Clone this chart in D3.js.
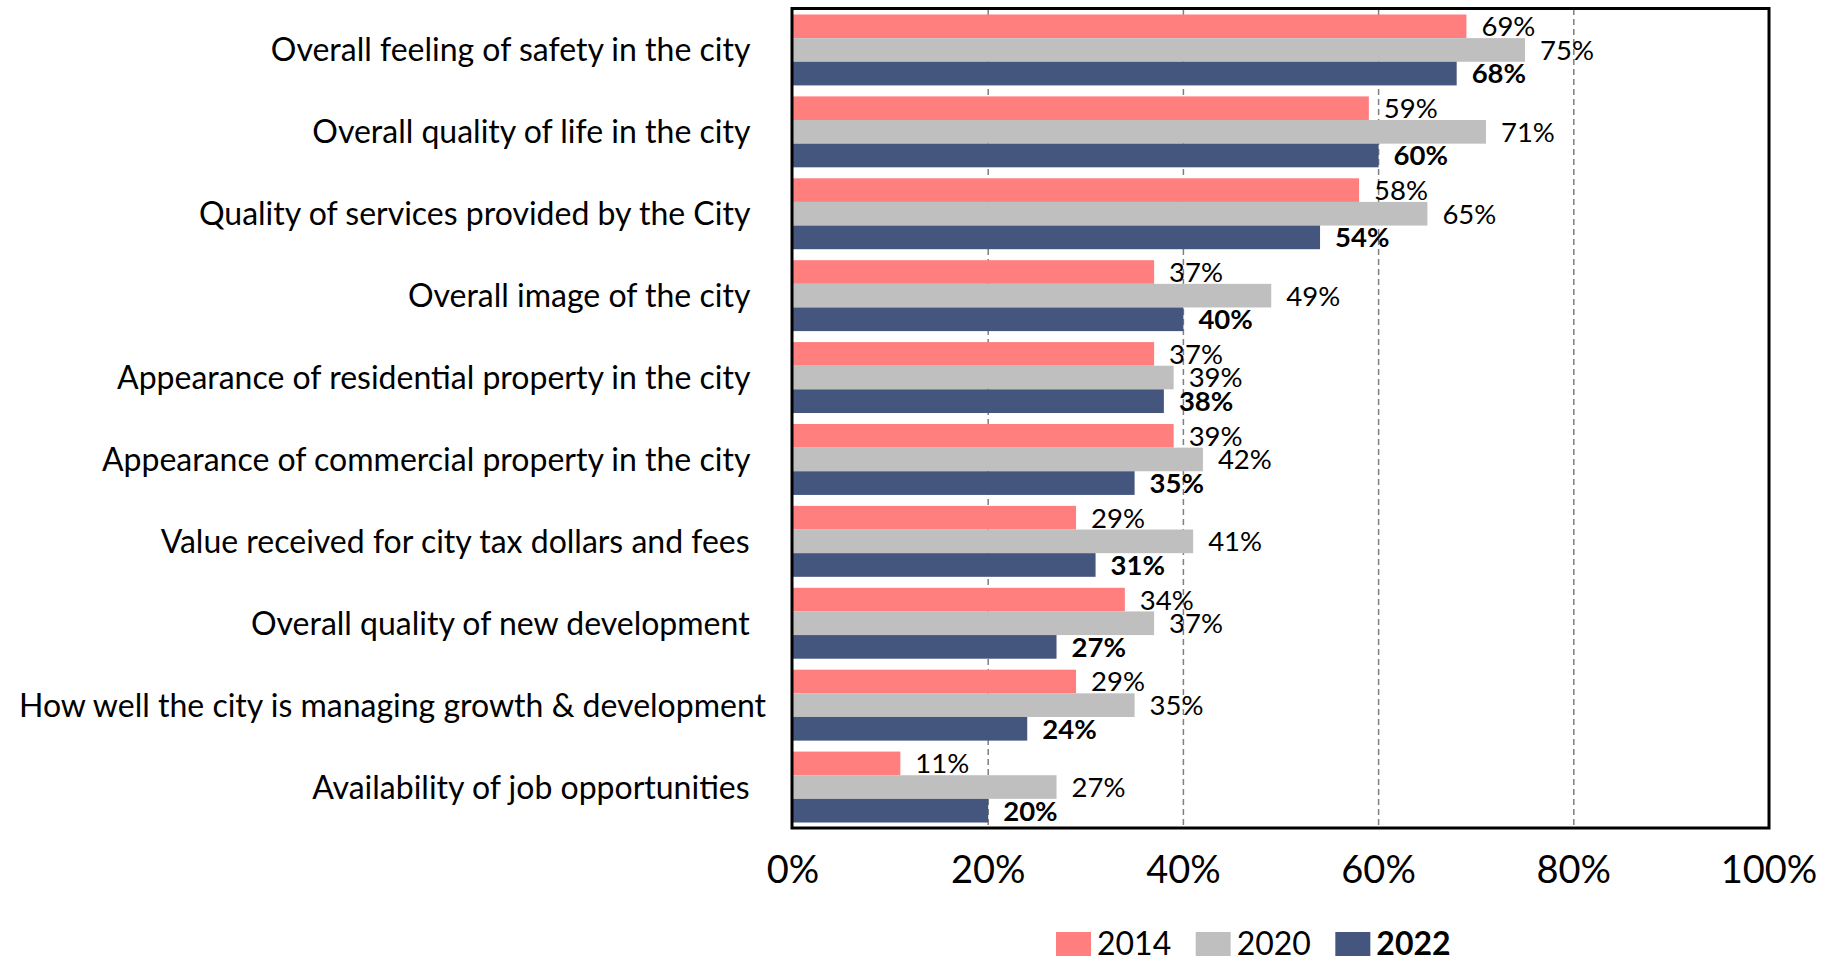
<!DOCTYPE html>
<html>
<head>
<meta charset="utf-8">
<script src="https://cdn.jsdelivr.net/npm/d3@7"></script>
<style>
  body { margin: 0; background: #fff; }
  text { font-family: Lato, "Open Sans", sans-serif; fill: #000; white-space: pre; }
</style>
</head>
<body>
<div id="chart"></div>
<script>
// survey categories (top to bottom); trailing spaces as in the source labels
var categories = [
  "Overall feeling of safety in the city  ",
  "Overall quality of life in the city  ",
  "Quality of services provided by the City  ",
  "Overall image of the city  ",
  "Appearance of residential property in the city  ",
  "Appearance of commercial property in the city  ",
  "Value received for city tax dollars and fees  ",
  "Overall quality of new development  ",
  "How well the city is managing growth & development",
  "Availability of job opportunities  "
];
var years = ["2014", "2020", "2022"];
var values_2014 = [69, 59, 58, 37, 37, 39, 29, 34, 29, 11];
var values_2020 = [75, 71, 65, 49, 39, 42, 41, 37, 35, 27];
var values_2022 = [68, 60, 54, 40, 38, 35, 31, 27, 24, 20];
var xTicks = [0, 20, 40, 60, 80, 100];

var colors = {"2014": "#ff7f7f", "2020": "#bfbfbf", "2022": "#44557e"};

var W = 1835, H = 962;
var plot = {left: 793, right: 1769, top: 9, bottom: 828};

var series = {"2014": values_2014, "2020": values_2020, "2022": values_2022};
var rows = categories.map(function (c, i) {
  return {cat: c, vals: years.map(function (y) { return {year: y, v: series[y][i]}; })};
});

var svg = d3.select("#chart").append("svg")
    .attr("width", W)
    .attr("height", H);

var x = d3.scaleLinear().domain([0, 100]).range([plot.left, plot.right]);
var y0 = d3.scaleBand()
    .domain(categories)
    .range([plot.top, plot.bottom])
    .paddingInner(0.134)
    .paddingOuter(0.067);
var y1 = d3.scaleBand().domain(years).range([0, y0.bandwidth()]);

// dashed grid lines
svg.append("g")
    .selectAll("line")
    .data(xTicks.filter(function (t) { return t > 0 && t < 100; }))
    .enter().append("line")
    .attr("x1", function (d) { return x(d); })
    .attr("x2", function (d) { return x(d); })
    .attr("y1", plot.top)
    .attr("y2", plot.bottom)
    .attr("stroke", "#7f7f7f")
    .attr("stroke-width", 1.5)
    .attr("stroke-dasharray", "6,4");

// bars
var groups = svg.append("g").selectAll("g")
    .data(rows)
    .enter().append("g")
    .attr("transform", function (d) { return "translate(0," + y0(d.cat) + ")"; });

groups.selectAll("rect")
    .data(function (d) { return d.vals; })
    .enter().append("rect")
    .attr("x", x(0))
    .attr("y", function (d) { return y1(d.year); })
    .attr("width", function (d) { return x(d.v) - x(0); })
    .attr("height", y1.bandwidth())
    .attr("fill", function (d) { return colors[d.year]; });

// value labels
groups.selectAll("text")
    .data(function (d) { return d.vals; })
    .enter().append("text")
    .attr("x", function (d) { return x(d.v) + 15; })
    .attr("y", function (d) { return y1(d.year) + y1.bandwidth() / 2; })
    .attr("dy", "0.36em")
    .style("font-size", "27.5px")
    .style("font-weight", function (d) { return d.year === "2022" ? "bold" : "normal"; })
    .text(function (d) { return d.v + "%"; });

// plot frame
svg.append("rect")
    .attr("x", plot.left - 1)
    .attr("y", plot.top - 0.5)
    .attr("width", plot.right - plot.left + 1)
    .attr("height", plot.bottom - plot.top + 0.5)
    .attr("fill", "none")
    .attr("stroke", "#000")
    .attr("stroke-width", 3);

// category labels
svg.append("g").selectAll("text")
    .data(categories)
    .enter().append("text")
    .attr("x", x(0) - 27)
    .attr("y", function (d) { return y0(d) + y0.bandwidth() / 2; })
    .attr("dy", "0.36em")
    .attr("text-anchor", "end")
    .style("font-size", "32px")
    .text(function (d) { return d; });

// x axis tick labels
svg.append("g").selectAll("text")
    .data(xTicks)
    .enter().append("text")
    .attr("x", function (d) { return x(d); })
    .attr("y", 883)
    .attr("text-anchor", "middle")
    .style("font-size", "38px")
    .text(function (d) { return d + "%"; });

// legend
var lx = d3.scaleBand().domain(years).range([1056, 1475]);
var legend = svg.append("g").selectAll("g")
    .data(years)
    .enter().append("g")
    .attr("transform", function (d) { return "translate(" + lx(d) + ",932)"; });
legend.append("rect")
    .attr("width", 35)
    .attr("height", 24)
    .attr("fill", function (d) { return colors[d]; });
legend.append("text")
    .attr("x", 41)
    .attr("y", 23)
    .style("font-size", "32px")
    .style("font-weight", function (d) { return d === "2022" ? "bold" : "normal"; })
    .text(function (d) { return d; });
</script>
</body>
</html>
